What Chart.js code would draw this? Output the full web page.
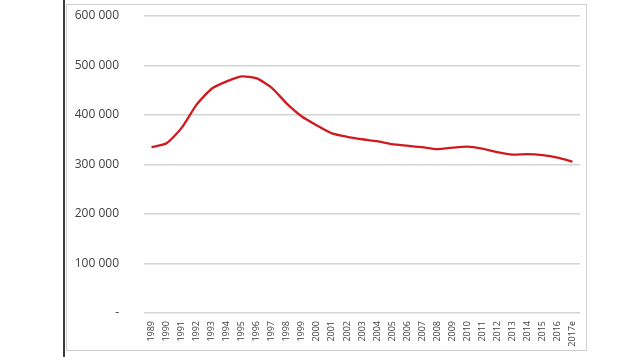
<!DOCTYPE html>
<html>
<head>
<meta charset="utf-8">
<script src="https://cdn.jsdelivr.net/npm/chart.js@4.4.1/dist/chart.umd.min.js"></script>
<style>
  html, body { margin: 0; padding: 0; background: #fff; }
  body { width: 635px; height: 357px; position: relative; overflow: hidden; }
  .rule { position: absolute; left: 63px; top: 0; width: 2px; height: 357px; background: #3a3a3a; }
  .frame { position: absolute; left: 66px; top: 4px; width: 519px; height: 345px; border: 1px solid #d0d0d0; }
  .frame canvas { display: block; }
</style>
</head>
<body>
<div class="rule"></div>
<div class="frame"><canvas id="chart" width="519" height="345"></canvas></div>
<script>
const years = ['1989', '1990', '1991', '1992', '1993', '1994', '1995', '1996', '1997', '1998',
  '1999', '2000', '2001', '2002', '2003', '2004', '2005', '2006', '2007', '2008',
  '2009', '2010', '2011', '2012', '2013', '2014', '2015', '2016', '2017e'];
const values = [335000, 343000, 374000, 421000, 453000, 468000, 478000, 474000, 455000, 423000,
  397000, 379000, 363000, 356000, 351000, 347000, 341000, 338000, 335000, 331000,
  334000, 336000, 332000, 325000, 320000, 321000, 319000, 314000, 306000];
const yTickValues = [0, 100000, 200000, 300000, 400000, 500000, 600000];
const yTickLabels = ['-', '100 000', '200 000', '300 000', '400 000', '500 000', '600 000'];

const ctx = document.getElementById('chart').getContext('2d');
new Chart(ctx, {
  type: 'line',
  data: {
    labels: years,
    datasets: [{
      data: values,
      borderColor: '#cf1b1f',
      borderWidth: 2.3,
      pointRadius: 0,
      tension: 0.2,
      fill: false
    }]
  },
  options: {
    responsive: false,
    animation: false,
    layout: { padding: { top: 11, right: 6, bottom: 0, left: 0 } },
    plugins: { legend: { display: false }, tooltip: { enabled: false } },
    scales: {
      x: {
        offset: true,
        grid: { display: false },
        border: { display: false },
        ticks: {
          color: '#404040',
          font: { family: 'Open Sans', size: 9 },
          minRotation: 90,
          maxRotation: 90,
          autoSkip: false,
          padding: 0
        },
        afterFit: s => {
          s.height = 37;
          s.paddingLeft = 0;
          s.paddingRight = 0;
        }
      },
      y: {
        min: 0,
        max: 600000,
        afterBuildTicks: s => { s.ticks = yTickValues.map(v => ({ value: v })); },
        grid: { color: '#d4d4d4', lineWidth: 1.5, drawTicks: false },
        border: { display: false },
        ticks: {
          color: '#404040',
          font: { family: 'Open Sans', size: 12 },
          padding: 25,
          callback: (v) => yTickLabels[yTickValues.indexOf(v)]
        },
        afterFit: s => {
          s.width = 77;
          s.paddingTop = 0;
          s.paddingBottom = 0;
        }
      }
    }
  }
});
</script>
</body>
</html>
